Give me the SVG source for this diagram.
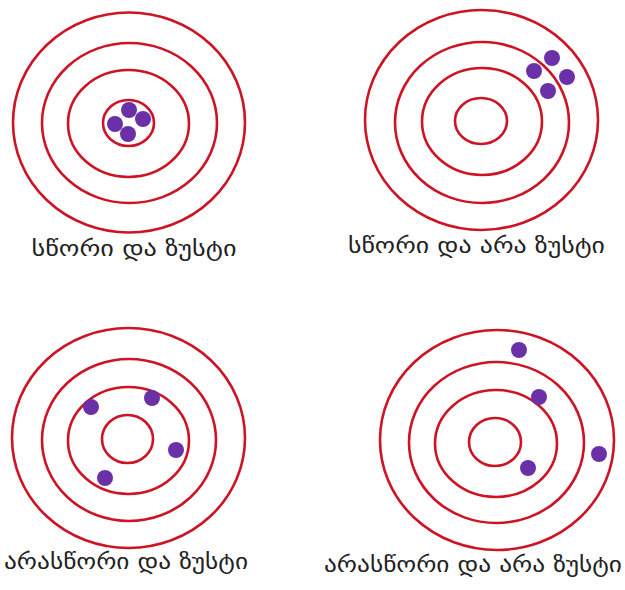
<svg xmlns="http://www.w3.org/2000/svg" width="625" height="590" viewBox="0 0 625 590">
<style>
.ring{fill:none;stroke:#cc1424;stroke-width:2.6}
.dot{fill:#6a30a8}
.lbl{font-family:"DejaVu Sans","Noto Sans",sans-serif;font-size:21px;fill:#222}
</style>
<rect width="625" height="590" fill="#ffffff"/>
<g id="target-1">
<ellipse class="ring" cx="129" cy="122.5" rx="116" ry="110"/>
<ellipse class="ring" cx="129.5" cy="123" rx="87.5" ry="80"/>
<ellipse class="ring" cx="128.5" cy="123.5" rx="60.5" ry="53.5"/>
<ellipse class="ring" cx="128.5" cy="123" rx="25.5" ry="23"/>
<circle class="dot" cx="129" cy="110" r="8"/>
<circle class="dot" cx="143" cy="119" r="8"/>
<circle class="dot" cx="115" cy="124" r="8"/>
<circle class="dot" cx="128" cy="134" r="8"/>
<text class="lbl" x="134" y="256" text-anchor="middle" textLength="205" lengthAdjust="spacingAndGlyphs">სწორი და ზუსტი</text>
</g>
<g id="target-2">
<ellipse class="ring" cx="481.5" cy="120" rx="116.5" ry="110"/>
<ellipse class="ring" cx="482" cy="122.5" rx="87" ry="80.5"/>
<ellipse class="ring" cx="482" cy="121.5" rx="60" ry="53.5"/>
<ellipse class="ring" cx="481" cy="121" rx="26" ry="23"/>
<circle class="dot" cx="552" cy="58" r="8"/>
<circle class="dot" cx="534" cy="71" r="8"/>
<circle class="dot" cx="567" cy="77" r="8"/>
<circle class="dot" cx="548" cy="91" r="8"/>
<text class="lbl" x="476.5" y="253" text-anchor="middle" textLength="257" lengthAdjust="spacingAndGlyphs">სწორი და არა ზუსტი</text>
</g>
<g id="target-3">
<ellipse class="ring" cx="128.5" cy="438" rx="116.5" ry="110"/>
<ellipse class="ring" cx="129" cy="440" rx="87" ry="81"/>
<ellipse class="ring" cx="128.5" cy="440.5" rx="60.5" ry="53.5"/>
<ellipse class="ring" cx="127.5" cy="439" rx="25.5" ry="24"/>
<circle class="dot" cx="91" cy="407" r="8"/>
<circle class="dot" cx="152" cy="398" r="8"/>
<circle class="dot" cx="176" cy="450" r="8"/>
<circle class="dot" cx="105" cy="478" r="8"/>
<text class="lbl" x="126" y="569" text-anchor="middle" textLength="244" lengthAdjust="spacingAndGlyphs">არასწორი და ზუსტი</text>
</g>
<g id="target-4">
<ellipse class="ring" cx="497" cy="440" rx="117" ry="110"/>
<ellipse class="ring" cx="496.5" cy="442.5" rx="87.5" ry="80.5"/>
<ellipse class="ring" cx="496" cy="443.5" rx="61" ry="53.5"/>
<ellipse class="ring" cx="495" cy="442" rx="26" ry="24"/>
<circle class="dot" cx="519" cy="350" r="8"/>
<circle class="dot" cx="539" cy="397" r="8"/>
<circle class="dot" cx="599" cy="454" r="8"/>
<circle class="dot" cx="528" cy="468" r="8"/>
<text class="lbl" x="473" y="572" text-anchor="middle" textLength="298" lengthAdjust="spacingAndGlyphs">არასწორი და არა ზუსტი</text>
</g>
<g id="connectors"/>
</svg>
